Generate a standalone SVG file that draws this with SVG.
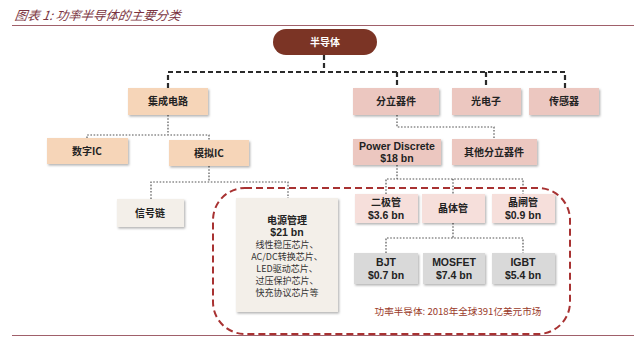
<svg xmlns="http://www.w3.org/2000/svg" width="640" height="339" viewBox="0 0 640 339">
<defs>
<filter id="sh" x="-10%" y="-10%" width="130%" height="140%">
<feDropShadow dx="1.2" dy="1.5" stdDeviation="0.8" flood-color="#000" flood-opacity="0.3"/>
</filter>
<style>
.t{font-family:"Noto Sans CJK SC","Liberation Sans",sans-serif;font-weight:bold;font-size:10px;fill:#222;text-anchor:middle}
.e{font-family:"Liberation Sans","Noto Sans CJK SC",sans-serif;font-weight:bold;font-size:10.5px;fill:#222;text-anchor:middle}
.s{font-family:"Noto Sans CJK SC","Liberation Sans",sans-serif;font-size:9px;fill:#333;text-anchor:middle}
.ic{fill:#f6d5b8;filter:url(#sh)}
.ds{fill:#ecc7c0;filter:url(#sh)}
.lp{fill:#f6dfdb;filter:url(#sh)}
.bg{fill:#f3efe9;filter:url(#sh)}
.gr{fill:#d9d9d9;filter:url(#sh)}
.c1{fill:none;stroke:#2a2a2a;stroke-width:2.2;stroke-dasharray:5 3}
.c2{fill:none;stroke:#555;stroke-width:1.2;stroke-dasharray:1.6 1.6}
</style>
</defs>
<rect width="640" height="339" fill="#fff"/>
<text x="14" y="20" font-family="Noto Sans CJK SC,serif" font-style="italic" font-size="12.5" fill="#7a3340" transform="skewX(-8) translate(3,0)">图表 1:  功率半导体的主要分类</text>
<line x1="12" y1="25.5" x2="634" y2="25.5" stroke="#a0606a" stroke-width="1"/>
<line x1="12" y1="335.5" x2="634" y2="335.5" stroke="#a0606a" stroke-width="1"/>

<g id="connectors">
<path class="c1" d="M324 55V72M168 88V72H565V88M397 72V88M486 72V88"/>
<path class="c2" d="M168 115V135M87 138V135H209V140"/>
<path class="c2" d="M209 166V182M151 199V182H288V198"/>
<path class="c2" d="M397 115V127H494V139"/>
<path class="c2" d="M397 165V179M386 194V179H523V194M453 179V194"/>
<path class="c2" d="M453 223V238M386 253V238H523V253"/>
</g>

<rect x="213" y="188" width="357" height="146" rx="32" fill="none" stroke="#a83232" stroke-width="2" stroke-dasharray="7 4"/>

<g id="root"><rect x="273" y="29" width="104" height="26" rx="13" fill="#7b3425"/><text class="t" x="325" y="46" style="fill:#fff">半导体</text></g>

<g id="ic"><rect class="ic" x="128" y="88" width="80" height="27"/><text class="t" x="168" y="105">集成电路</text></g>
<g id="discrete"><rect class="ds" x="353" y="88" width="86" height="27"/><text class="t" x="396" y="105">分立器件</text></g>
<g id="opto"><rect class="ds" x="452" y="88" width="69" height="27"/><text class="t" x="486" y="105">光电子</text></g>
<g id="sensor"><rect class="ds" x="529" y="88" width="70" height="27"/><text class="t" x="564" y="105">传感器</text></g>

<g id="digital"><rect class="ic" x="47" y="138" width="81" height="26"/><text class="t" x="87" y="155">数字IC</text></g>
<g id="analog"><rect class="ic" x="169" y="140" width="80" height="26"/><text class="t" x="209" y="157">模拟IC</text></g>

<g id="powerdiscrete"><rect class="ds" x="353" y="139" width="88" height="26"/><text class="e" x="397" y="150">Power Discrete</text><text class="e" x="397" y="162">$18 bn</text></g>
<g id="otherdiscrete"><rect class="ds" x="452" y="139" width="85" height="26"/><text class="t" x="494" y="156">其他分立器件</text></g>

<g id="signal"><rect class="bg" x="117" y="199" width="67" height="28"/><text class="t" x="150" y="217">信号链</text></g>
<g id="pm"><rect class="bg" x="236" y="198" width="102" height="114"/>
<text class="t" x="287" y="224">电源管理</text>
<text class="e" x="287" y="236">$21 bn</text>
<text class="s" x="287" y="248">线性稳压芯片、</text>
<text class="s" x="287" y="260">AC/DC转换芯片、</text>
<text class="s" x="287" y="272">LED驱动芯片、</text>
<text class="s" x="287" y="284">过压保护芯片、</text>
<text class="s" x="287" y="296">快充协议芯片等</text>
</g>

<g id="diode"><rect class="lp" x="355" y="194" width="63" height="29"/><text class="t" x="386" y="206">二极管</text><text class="e" x="386" y="219">$3.6 bn</text></g>
<g id="transistor"><rect class="lp" x="422" y="194" width="63" height="29"/><text class="t" x="453" y="212">晶体管</text></g>
<g id="thyristor"><rect class="lp" x="492" y="194" width="63" height="29"/><text class="t" x="523" y="206">晶闸管</text><text class="e" x="523" y="219">$0.9 bn</text></g>

<g id="bjt"><rect class="gr" x="354" y="253" width="64" height="31"/><text class="e" x="386" y="266">BJT</text><text class="e" x="386" y="279">$0.7 bn</text></g>
<g id="mosfet"><rect class="gr" x="423" y="253" width="62" height="31"/><text class="e" x="454" y="266">MOSFET</text><text class="e" x="454" y="279">$7.4 bn</text></g>
<g id="igbt"><rect class="gr" x="492" y="253" width="63" height="31"/><text class="e" x="523" y="266">IGBT</text><text class="e" x="523" y="279">$5.4 bn</text></g>

<text x="458" y="315" font-family="Noto Sans CJK SC,sans-serif" font-size="9.6" fill="#9a3a2a" text-anchor="middle">功率半导体:  2018年全球391亿美元市场</text>
</svg>
